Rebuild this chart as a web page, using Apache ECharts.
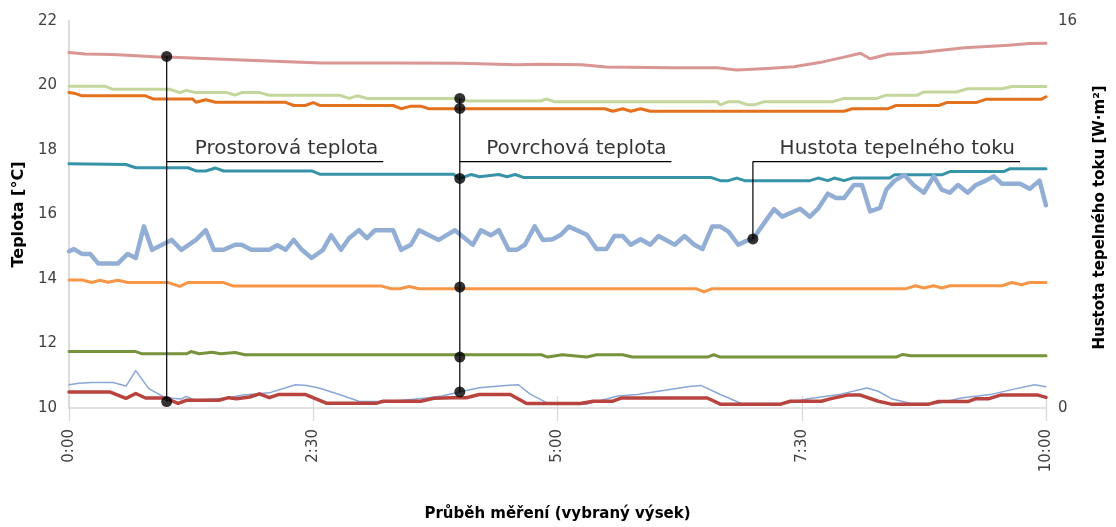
<!DOCTYPE html>
<html>
<head>
<meta charset="utf-8">
<script src="https://cdn.jsdelivr.net/npm/echarts@6/dist/echarts.min.js"></script>
<style>
html,body{margin:0;padding:0;background:#fff;}
#chart{width:1116px;height:527px;}
</style>
</head>
<body>
<div id="chart"></div>
<script>
// X axis tick labels (every 150 minutes)
const tickLabels = ['0:00', '2:30', '5:00', '7:30', '10:00'];

// Series data: [minute, value]
// Room (air) temperatures [°C]
const airInside = [[0,21.02],[10,20.98],[20,20.97],[30,20.95],[55,20.88],[60,20.88],[110,20.78],[155,20.70],[200,20.70],[240,20.69],[275,20.64],[290,20.66],[315,20.64],[330,20.57],[370,20.55],[398,20.55],[410,20.48],[429,20.53],[445,20.58],[461,20.71],[476,20.88],[486,21.0],[492,20.83],[503,20.97],[523,21.02],[550,21.17],[577,21.25],[590,21.30],[600,21.31]];
const airOutside = [[0,10.5],[25,10.5],[35,10.3],[41,10.45],[47,10.31],[59,10.31],[67,10.14],[72,10.24],[92,10.24],[98,10.32],[103,10.29],[111,10.34],[117,10.44],[123,10.32],[129,10.42],[145,10.42],[158,10.15],[166,10.15],[189,10.15],[193,10.21],[216,10.21],[224,10.3],[236,10.32],[244,10.32],[252,10.42],[271,10.42],[281,10.14],[314,10.14],[322,10.21],[334,10.21],[339,10.31],[392,10.31],[400,10.12],[437,10.12],[443,10.21],[462,10.21],[468,10.29],[478,10.4],[486,10.4],[497,10.21],[505,10.12],[528,10.12],[534,10.2],[552,10.2],[557,10.29],[565,10.29],[572,10.4],[595,10.4],[600,10.33]];
// Surface temperatures [°C]
const surf1 = [[0,19.98],[22,19.98],[27,19.88],[62,19.88],[68,19.78],[72,19.85],[78,19.78],[97,19.78],[102,19.70],[106,19.78],[117,19.78],[123,19.70],[166,19.70],[172,19.60],[177,19.68],[183,19.60],[237,19.60],[245,19.52],[290,19.52],[293,19.58],[298,19.50],[398,19.50],[400,19.40],[405,19.50],[411,19.50],[417,19.40],[421,19.40],[427,19.50],[469,19.50],[476,19.60],[496,19.60],[502,19.70],[521,19.70],[525,19.80],[545,19.80],[552,19.90],[573,19.90],[579,19.97],[600,19.97]];
const surf2 = [[0,19.78],[4,19.75],[8,19.68],[47,19.68],[52,19.58],[76,19.58],[78,19.48],[84,19.56],[90,19.48],[133,19.48],[138,19.38],[145,19.38],[150,19.47],[154,19.38],[199,19.38],[204,19.28],[210,19.36],[216,19.36],[221,19.28],[329,19.28],[334,19.2],[340,19.28],[345,19.2],[351,19.28],[357,19.2],[476,19.2],[481,19.28],[503,19.28],[508,19.38],[534,19.38],[539,19.47],[557,19.47],[563,19.57],[597,19.57],[600,19.65]];
const surf3 = [[0,17.57],[35,17.55],[41,17.45],[73,17.45],[78,17.35],[84,17.35],[90,17.44],[95,17.35],[149,17.35],[154,17.25],[236,17.25],[240,17.12],[247,17.24],[252,17.17],[264,17.24],[269,17.17],[274,17.24],[279,17.15],[394,17.15],[400,17.05],[405,17.05],[410,17.13],[415,17.05],[455,17.05],[460,17.13],[466,17.05],[470,17.13],[476,17.05],[481,17.13],[504,17.13],[507,17.23],[536,17.23],[541,17.33],[574,17.33],[578,17.42],[600,17.42]];
const surf4 = [[0,13.97],[8,13.97],[14,13.89],[19,13.96],[24,13.9],[30,13.96],[36,13.89],[61,13.89],[68,13.77],[73,13.89],[95,13.89],[101,13.78],[192,13.78],[198,13.70],[203,13.70],[209,13.77],[215,13.70],[385,13.70],[390,13.60],[395,13.70],[514,13.70],[520,13.79],[525,13.72],[531,13.79],[536,13.72],[541,13.79],[573,13.79],[579,13.89],[585,13.82],[590,13.89],[600,13.89]];
const surf5 = [[0,11.75],[41,11.75],[45,11.68],[72,11.68],[75,11.75],[80,11.68],[88,11.73],[93,11.68],[102,11.72],[108,11.65],[290,11.65],[294,11.58],[303,11.65],[318,11.58],[324,11.65],[340,11.65],[346,11.58],[392,11.58],[396,11.65],[400,11.58],[508,11.58],[512,11.66],[517,11.62],[600,11.62]];
const surf6 = [[0,10.72],[6,10.77],[14,10.79],[27,10.79],[35,10.68],[41,11.16],[49,10.6],[59,10.32],[69,10.28],[72,10.36],[77,10.25],[96,10.3],[107,10.4],[123,10.47],[139,10.72],[146,10.7],[154,10.61],[166,10.42],[178,10.21],[189,10.2],[195,10.2],[205,10.24],[221,10.32],[229,10.37],[244,10.54],[252,10.63],[268,10.7],[276,10.72],[283,10.44],[295,10.12],[318,10.12],[337,10.37],[349,10.42],[365,10.54],[381,10.67],[388,10.7],[400,10.42],[413,10.14],[439,10.14],[454,10.29],[474,10.43],[490,10.62],[497,10.52],[505,10.29],[517,10.14],[533,10.14],[548,10.31],[567,10.43],[579,10.57],[593,10.72],[600,10.66]];
// Heat flux density (right axis)
const heatFlux = [[0,6.48],[3,6.57],[8,6.37],[13,6.37],[18,5.97],[30,5.97],[36,6.37],[41,6.20],[46,7.51],[51,6.54],[63,6.95],[69,6.54],[78,6.95],[84,7.35],[89,6.54],[95,6.54],[102,6.75],[106,6.75],[112,6.54],[123,6.54],[128,6.73],[133,6.54],[138,6.95],[143,6.54],[149,6.20],[156,6.54],[161,7.14],[167,6.54],[172,7.02],[178,7.35],[183,7.02],[188,7.35],[199,7.35],[204,6.54],[210,6.75],[215,7.35],[227,6.95],[237,7.35],[248,6.75],[253,7.35],[259,7.14],[264,7.35],[270,6.54],[275,6.54],[280,6.75],[286,7.51],[291,6.95],[297,6.98],[302,7.16],[307,7.50],[318,7.16],[324,6.57],[330,6.57],[335,7.11],[340,7.11],[345,6.75],[351,6.98],[357,6.75],[362,7.11],[372,6.75],[378,7.11],[384,6.75],[389,6.57],[395,7.50],[400,7.50],[405,7.29],[411,6.75],[416,6.91],[420,6.99],[426,7.56],[433,8.22],[438,7.91],[449,8.24],[455,7.91],[460,8.24],[466,8.86],[471,8.68],[476,8.68],[482,9.22],[487,9.22],[492,8.13],[498,8.27],[502,9.03],[507,9.40],[513,9.63],[519,9.20],[525,8.90],[531,9.58],[536,9.03],[541,8.90],[546,9.22],[552,8.90],[557,9.22],[563,9.40],[568,9.58],[573,9.27],[584,9.27],[590,9.06],[596,9.40],[600,8.38]];

// Callouts
const calloutNames = ['Prostorová teplota', 'Povrchová teplota', 'Hustota tepelného toku'];
const calloutTimes = [60, 240, 420];
const calloutEnds = [193, 370, 584];
const calloutDots = [[20.9, 10.2], [19.6, 19.29, 17.12, 13.75, 11.58, 10.5], [6.99]];
const calloutAxis = [0, 0, 1];
const calloutLevel = [17.64, 17.64, 10.19];

const FONT = 'DejaVu Sans';
const chart = echarts.init(document.getElementById('chart'), null, {renderer: 'canvas'});

function lineSeries(name, data, color, width, yIdx) {
  return {
    name: name, type: 'line', data: data, yAxisIndex: yIdx || 0,
    showSymbol: false, symbol: 'none', smooth: false,
    lineStyle: {color: color, width: width, join: 'round', cap: 'round'},
    itemStyle: {color: color}, animation: false, z: 2
  };
}

const series = [
  lineSeries('Vnitřní vzduch', airInside, '#d99694', 3),
  lineSeries('Povrch 1', surf1, '#c3d69b', 3),
  lineSeries('Povrch 2', surf2, '#e4711d', 3),
  lineSeries('Povrch 3', surf3, '#3794a8', 3),
  lineSeries('Hustota tepelného toku', heatFlux, '#93aed5', 4.5, 1),
  lineSeries('Povrch 4', surf4, '#f79646', 3),
  lineSeries('Povrch 5', surf5, '#77933c', 3),
  lineSeries('Povrch 6', surf6, '#89a7d6', 1.5),
  lineSeries('Venkovní vzduch', airOutside, '#b8433f', 3.5)
];

calloutNames.forEach(function (name, i) {
  const t = calloutTimes[i];
  const dots = calloutDots[i];
  const yIdx = calloutAxis[i];
  const top = Math.max.apply(null, dots.concat([calloutLevel[i]]));
  const bottom = Math.min.apply(null, dots);
  series.push({
    type: 'line', yAxisIndex: yIdx, data: [[t, top], [t, bottom]],
    showSymbol: false, symbol: 'none', lineStyle: {color: '#000', width: 1.2},
    animation: false, z: 5, silent: true
  });
  series.push({
    type: 'line', yAxisIndex: yIdx, data: [[t, calloutLevel[i]], [calloutEnds[i], calloutLevel[i]]],
    showSymbol: false, symbol: 'none', lineStyle: {color: '#000', width: 1.2},
    animation: false, z: 5, silent: true
  });
  series.push({
    type: 'scatter', yAxisIndex: yIdx, data: dots.map(function (v) { return [t, v]; }),
    symbol: 'circle', symbolSize: 11, itemStyle: {color: '#000'},
    animation: false, z: 6, silent: true
  });
  series.push({
    type: 'scatter', yAxisIndex: yIdx, data: [[calloutEnds[i], calloutLevel[i]]],
    symbolSize: 0, animation: false, z: 6, silent: true,
    label: {
      show: true, formatter: name, position: 'top', align: 'right',
      distance: 3, offset: [-5, 0],
      fontFamily: FONT, fontSize: 20, color: '#000'
    }
  });
});

const gray = '#d9d9d9';
chart.setOption({
  backgroundColor: '#fff',
  animation: false,
  grid: {left: 69, right: 60, top: 21, bottom: 115, containLabel: false},
  xAxis: [{
    type: 'value', min: 0, max: 600, interval: 150,
    name: 'Průběh měření (vybraný výsek)', nameLocation: 'middle', nameGap: 99,
    nameTextStyle: {fontFamily: FONT, fontWeight: 'bold', fontSize: 15, color: '#000'},
    axisLine: {show: true, lineStyle: {color: gray, width: 1.5}},
    axisTick: {show: true, length: 13, lineStyle: {color: gray, width: 1.3}},
    axisLabel: {
      rotate: 90, margin: 21, fontFamily: FONT, fontSize: 15, color: '#404040',
      formatter: function (v) { return tickLabels[Math.round(v / 150)]; }
    },
    splitLine: {show: false}
  }, {
    type: 'value', min: 0, max: 600, interval: 150, position: 'bottom',
    axisLine: {show: false},
    axisTick: {show: true, inside: true, length: 12, lineStyle: {color: gray, width: 1.3}},
    axisLabel: {show: false}, splitLine: {show: false}
  }],
  yAxis: [{
    type: 'value', min: 10, max: 22, interval: 2,
    name: 'Teplota [°C]', nameLocation: 'middle', nameGap: 38, nameRotate: 90,
    nameTextStyle: {fontFamily: FONT, fontWeight: 'bold', fontSize: 16, color: '#000'},
    axisLine: {show: true, lineStyle: {color: gray, width: 1.5}},
    axisTick: {show: false},
    axisLabel: {margin: 12, fontFamily: FONT, fontSize: 15, color: '#404040'},
    splitLine: {show: false}
  }, {
    type: 'value', min: 0, max: 16, interval: 16, position: 'right',
    name: 'Hustota tepelného toku [W·m²]', nameLocation: 'middle', nameGap: 47, nameRotate: 90,
    nameTextStyle: {fontFamily: FONT, fontWeight: 'bold', fontSize: 15, color: '#000', padding: [0, 6, 0, 0]},
    axisLine: {show: true, lineStyle: {color: gray, width: 1.5}},
    axisTick: {show: false},
    axisLabel: {margin: 12, fontFamily: FONT, fontSize: 15, color: '#404040'},
    splitLine: {show: false}
  }],
  series: series
});
</script>
</body>
</html>
